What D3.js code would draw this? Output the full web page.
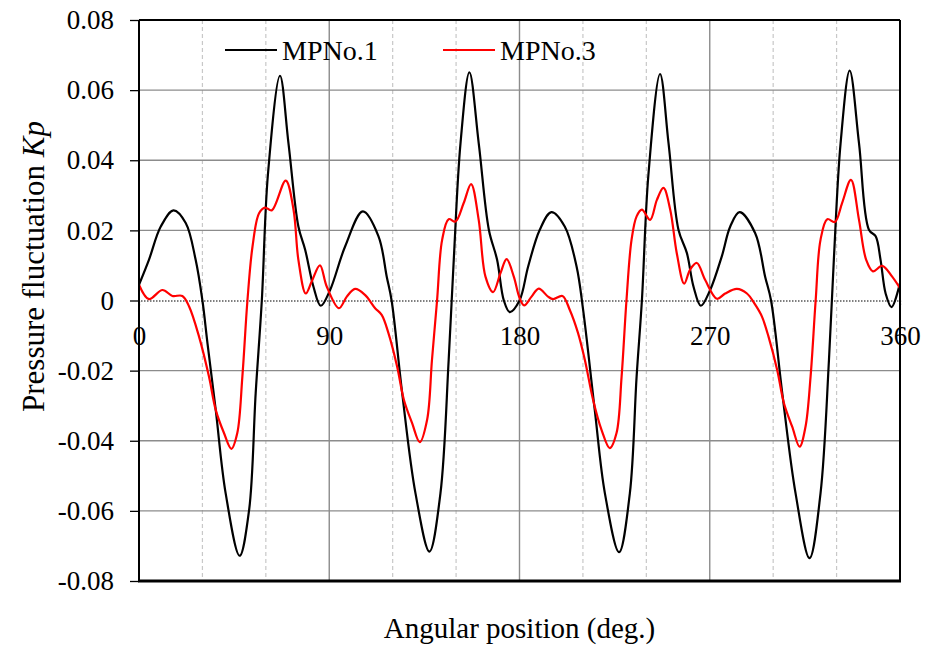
<!DOCTYPE html>
<html>
<head>
<meta charset="utf-8">
<script src="https://cdn.jsdelivr.net/npm/d3@7"></script>
<style>
  html, body { margin: 0; padding: 0; background: #fff; }
  svg { display: block; }
  svg text { font-family: "Liberation Serif", "Times New Roman", serif; fill: #000; }
</style>
</head>
<body>
<svg id="chart" width="926" height="646"></svg>
<script>
// Pressure fluctuation over one revolution at two monitoring points
const seriesNames = ["MPNo.1", "MPNo.3"];
const seriesColors = ["#000000", "#ff0000"];

const mp1Angle = [0, 4.7, 10.3, 16.3, 22.1, 26.8, 30.0, 32.4, 36.3, 41.0, 47.6, 52.1, 55.2, 58.1, 61.0, 66.7, 70.7, 75.4, 78.6, 82.5, 86.0, 90.4, 97.5, 105.9, 113.3, 117.2, 119.5, 124.5, 130.8, 137.4, 142.6, 146.5, 148.9, 152.1, 156.3, 160.7, 165.5, 169.4, 172.6, 175.4, 180.0, 184.1, 189.6, 195.1, 201.4, 207.0, 210.1, 215.6, 220.4, 227.1, 232.2, 235.4, 237.9, 241.0, 246.5, 250.5, 255.2, 259.2, 262.3, 265.8, 270.2, 275.7, 279.7, 284.1, 291.5, 296.2, 299.0, 304.3, 310.6, 317.2, 322.4, 326.4, 328.7, 331.9, 336.2, 340.6, 345.3, 348.5, 350.8, 353.2, 356.0, 360];
const mp1Kp = [0.0045, 0.0116, 0.0211, 0.0257, 0.0221, 0.0116, 0.0, -0.0122, -0.0312, -0.055, -0.0728, -0.0597, -0.0264, 0.0, 0.036, 0.0641, 0.0449, 0.0211, 0.0145, 0.004, -0.0015, 0.003, 0.0154, 0.0254, 0.0183, 0.0068, 0.0, -0.0264, -0.055, -0.0716, -0.055, -0.0169, 0.0116, 0.0449, 0.0651, 0.0449, 0.0202, 0.0116, 0.0, -0.0033, 0.0, 0.0097, 0.0202, 0.0252, 0.0211, 0.0097, -0.0027, -0.0312, -0.055, -0.0718, -0.055, -0.0217, 0.0, 0.036, 0.0646, 0.0449, 0.0202, 0.0135, 0.004, -0.0015, 0.003, 0.0126, 0.0211, 0.0252, 0.0192, 0.0068, 0.0, -0.0264, -0.055, -0.0735, -0.055, -0.0169, 0.0116, 0.0449, 0.0656, 0.0449, 0.0202, 0.0183, 0.0116, 0.002, -0.0019, 0.005];

const mp3Angle = [0, 4.7, 11.1, 15.8, 20.5, 23.7, 28.4, 33.1, 36.3, 40.2, 43.7, 46.5, 48.9, 51.3, 53.7, 56.8, 59.6, 62.8, 69.4, 73.1, 75.4, 78.9, 81.7, 85.6, 88.8, 94.6, 98.3, 102.2, 106.9, 111.7, 114.8, 118.0, 122.1, 125.3, 129.2, 132.8, 136.3, 138.6, 141.0, 143.4, 146.5, 149.7, 153.6, 157.1, 160.7, 163.9, 167.5, 171.0, 173.9, 177.3, 180.0, 182.2, 185.7, 189.1, 193.5, 195.9, 200.3, 203.8, 207.7, 210.9, 214.8, 218.8, 222.7, 225.9, 228.3, 230.6, 233.0, 235.4, 237.9, 241.8, 245.0, 248.1, 251.3, 254.4, 257.9, 260.7, 263.9, 267.8, 273.4, 277.3, 282.8, 287.6, 291.5, 294.7, 297.8, 301.9, 305.1, 309.0, 312.5, 315.3, 317.7, 320.1, 322.4, 325.6, 329.2, 332.6, 336.8, 340.6, 344.0, 347.2, 351.6, 356.3, 360];
const mp3Kp = [0.0045, 0.0004, 0.003, 0.0013, 0.0013, -0.0017, -0.0103, -0.0217, -0.0312, -0.0378, -0.0423, -0.0378, -0.0217, 0.0, 0.0154, 0.0249, 0.0265, 0.0257, 0.0342, 0.0259, 0.0116, 0.002, 0.0054, 0.010, 0.004, -0.0022, 0.0011, 0.0033, 0.0016, -0.0022, -0.0041, -0.0093, -0.0188, -0.0283, -0.035, -0.0404, -0.034, -0.0169, 0.0, 0.0173, 0.0232, 0.0225, 0.0278, 0.0332, 0.023, 0.0068, 0.0024, 0.0078, 0.0118, 0.0068, 0.0008, -0.0014, 0.0011, 0.0034, 0.0011, 0.0004, 0.0013, -0.0027, -0.0093, -0.0169, -0.0283, -0.0369, -0.0421, -0.0378, -0.0217, 0.0, 0.0173, 0.024, 0.0259, 0.023, 0.0287, 0.0321, 0.0259, 0.0135, 0.0048, 0.0088, 0.0107, 0.0059, 0.0005, 0.002, 0.0033, 0.002, -0.0012, -0.0046, -0.0103, -0.0198, -0.0293, -0.036, -0.0417, -0.036, -0.0217, 0.0, 0.0173, 0.0232, 0.0224, 0.0278, 0.0344, 0.023, 0.0116, 0.0083, 0.0099, 0.0068, 0.0035];

const xTicks = [0, 90, 180, 270, 360];
const xMinorGrid = [30, 60, 120, 150, 210, 240, 300, 330];
const yTicks = [-0.08, -0.06, -0.04, -0.02, 0, 0.02, 0.04, 0.06, 0.08];
const xTitle = "Angular position (deg.)";
const yTitle = "Pressure fluctuation ";
const yTitleItalic = "Kp";

const serif = "'Liberation Serif', 'Times New Roman', serif";
const margin = { top: 20, right: 26, bottom: 65, left: 139 };
const W = 926, H = 646;
const iw = W - margin.left - margin.right;
const ih = H - margin.top - margin.bottom;

const svg = d3.select("#chart");
const g = svg.append("g").attr("transform", `translate(${margin.left},${margin.top})`);

const x = d3.scaleLinear().domain([0, 360]).range([0, iw]);
const y = d3.scaleLinear().domain([-0.08, 0.08]).range([ih, 0]);

// plain hyphen for negatives, bare "0" at the origin
const fmtY = d => d === 0 ? "0" : d3.format(".2f")(d).replace("\u2212", "-");

// minor vertical grid (dashed)
g.append("g").selectAll("line").data(xMinorGrid).join("line")
  .attr("x1", d => x(d)).attr("x2", d => x(d))
  .attr("y1", 0).attr("y2", ih)
  .attr("stroke", "#c8c8c8").attr("stroke-width", 1.2)
  .attr("stroke-dasharray", "4,3");

// major vertical grid
g.append("g").selectAll("line").data(xTicks.filter(d => d > 0 && d < 360)).join("line")
  .attr("x1", d => x(d)).attr("x2", d => x(d))
  .attr("y1", 0).attr("y2", ih)
  .attr("stroke", "#8c8c8c").attr("stroke-width", 1.4);

// horizontal grid
g.append("g").selectAll("line").data(yTicks.filter(d => d !== 0 && Math.abs(d) < 0.08)).join("line")
  .attr("x1", 0).attr("x2", iw)
  .attr("y1", d => y(d)).attr("y2", d => y(d))
  .attr("stroke", "#8c8c8c").attr("stroke-width", 1.4);

// left axis with outward ticks
const yAxis = d3.axisLeft(y).tickValues(yTicks).tickFormat(fmtY).tickSize(9).tickPadding(16);
const ya = g.append("g").call(yAxis).attr("font-family", serif);
ya.select(".domain").remove();
ya.selectAll(".tick line").attr("stroke", "#000").attr("stroke-width", 1.3);
ya.selectAll(".tick text")
  .style("font-family", serif)
  .attr("font-size", 27).attr("fill", "#000");

// zero line (dotted) with angle labels beneath
const xAxis = d3.axisBottom(x).tickValues(xTicks).tickFormat(d3.format("d")).tickSize(5).tickPadding(20);
const xa = g.append("g").attr("transform", `translate(0,${y(0)})`).call(xAxis).attr("font-family", serif);
xa.select(".domain").attr("stroke", "#000").attr("stroke-width", 1.2).attr("stroke-dasharray", "1.5,1.5");
xa.selectAll(".tick line").attr("stroke", "#000").attr("stroke-width", 1).attr("stroke-dasharray", "1,1");
xa.selectAll(".tick text")
  .style("font-family", serif)
  .attr("font-size", 27).attr("fill", "#000");

// curves
g.append("clipPath").attr("id", "plotClip").append("rect")
  .attr("x", 0).attr("y", 0).attr("width", iw).attr("height", ih);

const line = d3.line().x(d => x(d[0])).y(d => y(d[1])).curve(d3.curveCatmullRom.alpha(0.5));
const series = [d3.zip(mp1Angle, mp1Kp), d3.zip(mp3Angle, mp3Kp)];
g.append("g").attr("clip-path", "url(#plotClip)")
  .selectAll("path").data(series).join("path")
  .attr("d", line)
  .attr("fill", "none")
  .attr("stroke", (d, i) => seriesColors[i])
  .attr("stroke-width", 2.2)
  .attr("stroke-linejoin", "round");

// frame
g.append("line").attr("x1", 0).attr("x2", iw).attr("y1", 0).attr("y2", 0).attr("stroke", "#000").attr("stroke-width", 2.2);
g.append("line").attr("x1", iw).attr("x2", iw).attr("y1", 0).attr("y2", ih).attr("stroke", "#000").attr("stroke-width", 2);
g.append("line").attr("x1", 0).attr("x2", 0).attr("y1", 0).attr("y2", ih).attr("stroke", "#000").attr("stroke-width", 2);
g.append("line").attr("x1", -1).attr("x2", iw + 1).attr("y1", ih).attr("y2", ih).attr("stroke", "#000").attr("stroke-width", 3);

// legend
const legendX = [86, 304];
const legend = g.append("g").attr("transform", "translate(0,30)");
seriesNames.forEach((name, i) => {
  const lg = legend.append("g").attr("transform", `translate(${legendX[i]},0)`);
  lg.append("line").attr("x1", 0).attr("x2", 52).attr("y1", 0).attr("y2", 0)
    .attr("stroke", seriesColors[i]).attr("stroke-width", 2.2);
  lg.append("text").attr("x", 57).attr("y", 0).attr("dy", "0.35em")
    .style("font-family", serif)
    .attr("font-size", 28).text(name);
});

// axis titles
svg.append("text")
  .attr("x", margin.left + iw / 2).attr("y", 638)
  .attr("text-anchor", "middle").attr("font-size", 29)
  .style("font-family", serif)
  .text(xTitle);

const yt = svg.append("text")
  .attr("transform", `translate(44,${margin.top + ih / 2 - 34}) rotate(-90)`)
  .attr("text-anchor", "middle").attr("font-size", 31)
  .style("font-family", serif);
yt.append("tspan").text(yTitle);
yt.append("tspan").attr("font-style", "italic").text(yTitleItalic);
</script>
</body>
</html>
